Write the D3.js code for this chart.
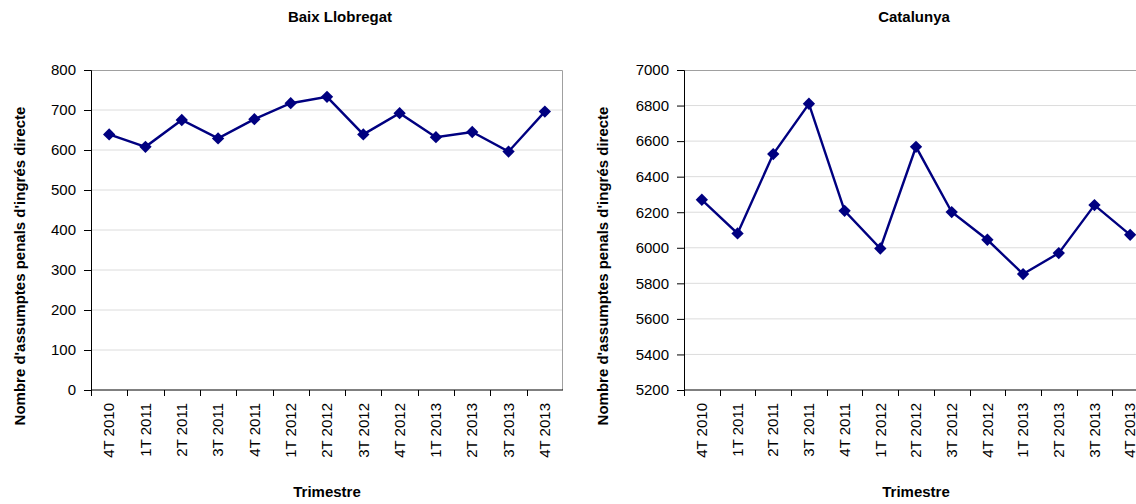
<!DOCTYPE html>
<meta charset="utf-8">
<style>
  body { margin: 0; background: #fff; }
  svg { display: block; font-family: "Liberation Sans", Arial, sans-serif; }
  .tick text { font-size: 15px; fill: #000; }
  .title { font-size: 15px; font-weight: bold; }
</style>
<script src="https://d3js.org/d3.v7.min.js"></script>
<div id="chart"></div>
<script>
  // trimestres (x categories)
  var quarters = ["4T 2010", "1T 2011", "2T 2011", "3T 2011", "4T 2011", "1T 2012", "2T 2012",
                  "3T 2012", "4T 2012", "1T 2013", "2T 2013", "3T 2013", "4T 2013"];

  // values
  var baixLlobregat = [639, 608, 675, 629, 677, 717, 733, 639, 692, 632, 645, 596, 696];
  var catalunya = [6270, 6081, 6527, 6810, 6208, 5996, 6568, 6201, 6045, 5852, 5970, 6240, 6073];

  var baixTicks = [0, 100, 200, 300, 400, 500, 600, 700, 800];
  var catTicks = [5200, 5400, 5600, 5800, 6000, 6200, 6400, 6600, 6800, 7000];

  var width = 1136, height = 504;

  var svg = d3.select("#chart").append("svg")
    .attr("width", width)
    .attr("height", height);

  // one panel per area
  function drawPanel(opts) {
    var g = svg.append("g");
    var x = d3.scaleBand().domain(quarters).range([opts.left, opts.right]);
    var y = d3.scaleLinear().domain(opts.domain).range([390, 70]);

    // gridlines
    g.selectAll(".grid")
      .data(opts.ticks.slice(1, -1))
      .enter().append("line")
        .attr("x1", opts.left).attr("x2", opts.right)
        .attr("y1", function(d) { return y(d); })
        .attr("y2", function(d) { return y(d); })
        .attr("stroke", "#dcdcdc")
        .attr("stroke-width", 1);

    // plot border, top and right
    g.append("path")
      .attr("d", "M" + opts.left + ",70.5H" + (opts.right - 0.5) + "V390")
      .attr("fill", "none")
      .attr("stroke", "#a0a0a0")
      .attr("stroke-width", 1);

    // y axis
    var yAxis = g.append("g")
      .attr("transform", "translate(" + opts.left + ",0)")
      .call(d3.axisLeft(y).tickValues(opts.ticks).tickSize(7).tickPadding(8).tickFormat(d3.format("d")));
    yAxis.selectAll("path, line").attr("stroke", "#000");

    // x axis, ticks at category boundaries
    var xAxis = g.append("g")
      .attr("transform", "translate(0,390)");
    xAxis.append("line")
      .attr("x1", opts.left).attr("x2", opts.right)
      .attr("stroke", "#000");
    xAxis.selectAll(".bound")
      .data(quarters)
      .enter().append("line")
        .attr("x1", function(d) { return Math.round(x(d)) + 0.5; })
        .attr("x2", function(d) { return Math.round(x(d)) + 0.5; })
        .attr("y1", 0).attr("y2", 6)
        .attr("stroke", "#000");
    xAxis.selectAll(".lbl")
      .data(quarters)
      .enter().append("text")
        .attr("transform", function(d) {
          return "translate(" + (x(d) + x.bandwidth() / 2) + ",13) rotate(-90)";
        })
        .attr("dy", "0.35em")
        .attr("text-anchor", "end")
        .style("font-size", "15px")
        .text(function(d) { return d; });

    // line and markers
    var pts = quarters.map(function(q, i) { return [x(q) + x.bandwidth() / 2, y(opts.values[i])]; });
    g.append("path")
      .datum(pts)
      .attr("d", d3.line())
      .attr("fill", "none")
      .attr("stroke", "#000080")
      .attr("stroke-width", 2.4);
    g.selectAll(".mark")
      .data(pts)
      .enter().append("path")
        .attr("d", d3.symbol(d3.symbolSquare, 76))
        .attr("transform", function(d) { return "translate(" + d[0] + "," + d[1] + ") rotate(45)"; })
        .attr("fill", "#000080");

    // titles
    g.append("text")
      .attr("class", "title")
      .attr("x", opts.titleX).attr("y", 22)
      .attr("text-anchor", "middle")
      .text(opts.title);
    g.append("text")
      .attr("class", "title")
      .attr("x", (opts.left + opts.right) / 2).attr("y", 497)
      .attr("text-anchor", "middle")
      .text("Trimestre");
    g.append("text")
      .attr("class", "title")
      .attr("transform", "translate(" + opts.yTitleX + ",266) rotate(-90)")
      .attr("text-anchor", "middle")
      .text("Nombre d'assumptes penals d'ingrés directe");
  }

  drawPanel({ left: 91, right: 563, domain: [0, 800], ticks: baixTicks, values: baixLlobregat,
              title: "Baix Llobregat", titleX: 340, yTitleX: 25 });
  drawPanel({ left: 684, right: 1148, domain: [5200, 7000], ticks: catTicks, values: catalunya,
              title: "Catalunya", titleX: 914, yTitleX: 608 });
</script>
